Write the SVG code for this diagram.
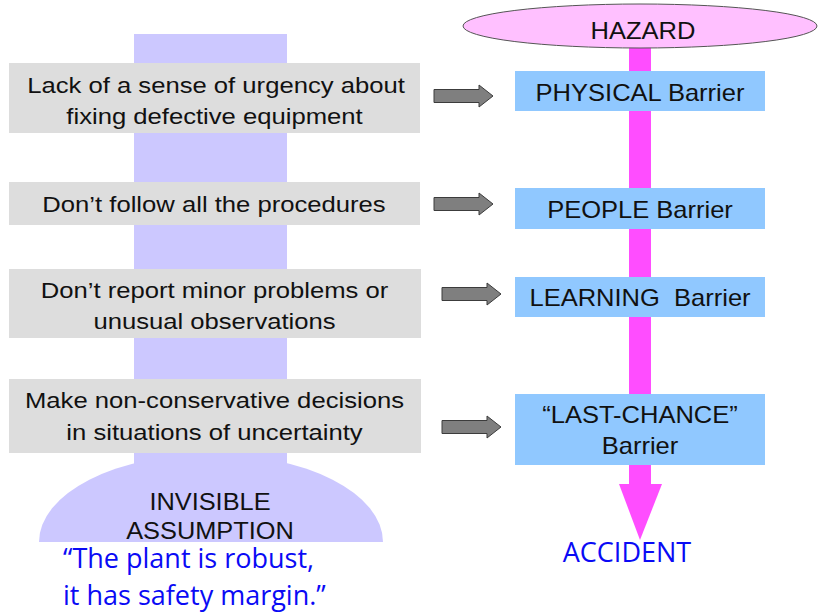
<svg xmlns="http://www.w3.org/2000/svg" width="818" height="612" viewBox="0 0 818 612">
  <style>
    .cause-box { fill: #dddddd; }
    .barrier-box { fill: #90c8ff; }
    .sans { font-family: "Liberation Sans", Arial, sans-serif; fill: #111111; text-anchor: middle; }
    .cause { font-size: 22.5px; }
    .barrier { font-size: 23.2px; }
    .note { font-family: "Open Sans", "Noto Sans", sans-serif; fill: #0a0af5; font-size: 27px; }
    .feed { fill: #7f7f7f; stroke: #3c3c3c; stroke-width: 1; }
  </style>
  <defs>
    <path id="feed-arrow" d="M0,-6.5 H45 V-11 L59,0 L45,11 V6.5 H0 Z"/>
    <clipPath id="base-clip"><rect x="0" y="0" width="420" height="542"/></clipPath>
  </defs>

  <rect width="818" height="612" fill="#ffffff"/>

  <!-- invisible assumption: column and dome -->
  <g id="assumption">
    <path d="M39,542 A172,88 0 0 1 383,542 Z" fill="#ccc8ff"/>
    <rect x="134" y="34" width="153" height="440" fill="#ccc8ff"/>
    <g clip-path="url(#base-clip)">
      <text class="sans" font-size="23.5" transform="translate(210 510) scale(1.08 1)">INVISIBLE</text>
      <text class="sans" font-size="23.5" transform="translate(210 539) scale(1.08 1)">ASSUMPTION</text>
    </g>
  </g>

  <!-- hazard path -->
  <g id="hazard-path">
    <rect x="629" y="40" width="22" height="445" fill="#ff4dff"/>
    <polygon points="619,484 662,484 640,540" fill="#ff4dff"/>
  </g>

  <g id="hazard">
    <ellipse cx="640" cy="26" rx="177" ry="22" fill="#ffc0ff" stroke="#555555" stroke-width="1"/>
    <text class="sans barrier" transform="translate(643 39) scale(1.1 1)">HAZARD</text>
  </g>

  <!-- causes -->
  <g id="cause-urgency">
    <rect class="cause-box" x="9" y="63" width="411" height="70"/>
    <text class="sans cause" transform="translate(216 93) scale(1.14 1)">Lack of a sense of urgency about</text>
    <text class="sans cause" transform="translate(214.5 124) scale(1.14 1)">fixing defective equipment</text>
  </g>
  <g id="cause-procedures">
    <rect class="cause-box" x="9" y="182" width="411" height="43"/>
    <text class="sans cause" transform="translate(214 212) scale(1.14 1)">Don’t follow all the procedures</text>
  </g>
  <g id="cause-reporting">
    <rect class="cause-box" x="9" y="269" width="412" height="69"/>
    <text class="sans cause" transform="translate(214.5 298) scale(1.14 1)">Don’t report minor problems or</text>
    <text class="sans cause" transform="translate(214.5 329) scale(1.14 1)">unusual observations</text>
  </g>
  <g id="cause-decisions">
    <rect class="cause-box" x="9" y="379" width="412" height="74"/>
    <text class="sans cause" transform="translate(214.5 408) scale(1.14 1)">Make non-conservative decisions</text>
    <text class="sans cause" transform="translate(214.5 440) scale(1.14 1)">in situations of uncertainty</text>
  </g>

  <!-- barriers -->
  <g id="barrier-physical">
    <rect class="barrier-box" x="515" y="71" width="250" height="40"/>
    <text class="sans barrier" transform="translate(640 101) scale(1.1 1)">PHYSICAL Barrier</text>
  </g>
  <g id="barrier-people">
    <rect class="barrier-box" x="515" y="188" width="250" height="41"/>
    <text class="sans barrier" transform="translate(640 218) scale(1.1 1)">PEOPLE Barrier</text>
  </g>
  <g id="barrier-learning">
    <rect class="barrier-box" x="515" y="277" width="250" height="40"/>
    <text class="sans barrier" xml:space="preserve" transform="translate(640 306) scale(1.1 1)">LEARNING  Barrier</text>
  </g>
  <g id="barrier-last-chance">
    <rect class="barrier-box" x="515" y="394" width="250" height="71"/>
    <text class="sans barrier" transform="translate(640 423) scale(1.1 1)">“LAST-CHANCE”</text>
    <text class="sans barrier" transform="translate(640 454) scale(1.1 1)">Barrier</text>
  </g>

  <!-- connectors: each cause weakens its barrier -->
  <g id="connectors">
    <use href="#feed-arrow" class="feed" transform="translate(434 96)"/>
    <use href="#feed-arrow" class="feed" transform="translate(434 204)"/>
    <use href="#feed-arrow" class="feed" transform="translate(442 294)"/>
    <use href="#feed-arrow" class="feed" transform="translate(442 427)"/>
  </g>

  <g id="accident">
    <text class="note" x="627" y="562" text-anchor="middle">ACCIDENT</text>
  </g>

  <g id="assumption-quote">
    <text class="note" x="63" y="568">“The plant is robust,</text>
    <text class="note" x="63" y="605">it has safety margin.”</text>
  </g>
</svg>
